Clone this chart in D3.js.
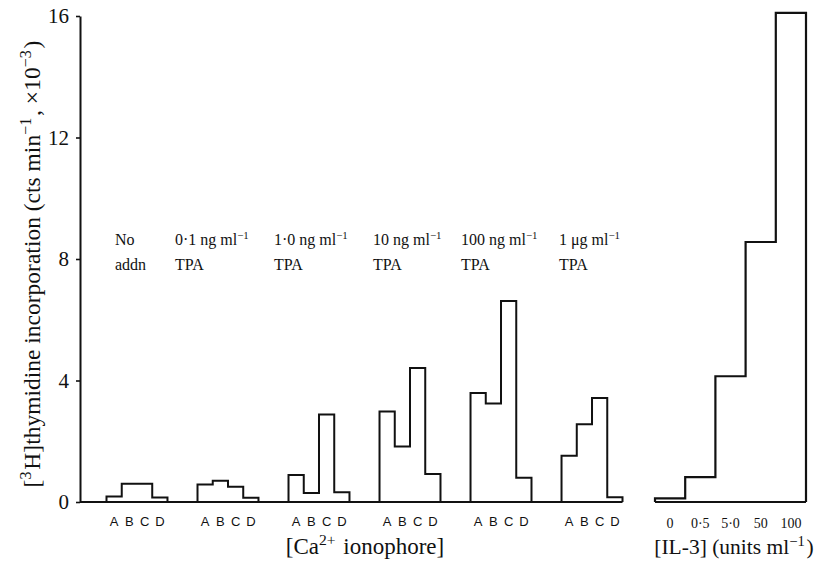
<!DOCTYPE html>
<html>
<head>
<meta charset="utf-8">
<script src="https://cdn.jsdelivr.net/npm/d3@7"></script>
<style>
body { margin: 0; background: #fff; }
text { fill: #111; }
</style>
</head>
<body>
<div id="chart"></div>
<script>
var width = 821;
var height = 561;

// ionophore levels inside each TPA group
var ionophore = ["A", "B", "C", "D"];
// TPA groups (label line 1, its superscript, line 2)
var groupKeys = ["none", "0.1ng", "1ng", "10ng", "100ng", "1ug"];
var groupTop = ["No", "0\u00b71 ng ml", "1\u00b70 ng ml", "10 ng ml", "100 ng ml", "1 \u03bcg ml"];
var groupTopSup = ["", "\u22121", "\u22121", "\u22121", "\u22121", "\u22121"];
var groupBottom = ["addn", "TPA", "TPA", "TPA", "TPA", "TPA"];
// [3H]thymidine incorporation (x10^-3 cts/min), A..D for each group
var noAddn = [0.18, 0.6, 0.6, 0.15];
var tpa01 = [0.58, 0.7, 0.5, 0.14];
var tpa1 = [0.89, 0.3, 2.88, 0.32];
var tpa10 = [2.98, 1.83, 4.41, 0.92];
var tpa100 = [3.59, 3.24, 6.62, 0.8];
var tpa1000 = [1.52, 2.56, 3.42, 0.16];
var groupValues = [noAddn, tpa01, tpa1, tpa10, tpa100, tpa1000];
// IL-3 panel
var il3Doses = ["0", "0\u00b75", "5\u00b70", "50", "100"];
var il3Values = [0.12, 0.82, 4.14, 8.56, 16.1];
var yTicks = [0, 4, 8, 12, 16];

var serif = "'Liberation Serif', 'Times New Roman', serif";
var sans = "'Liberation Sans', Arial, sans-serif";

var svg = d3.select("#chart").append("svg")
  .attr("width", width)
  .attr("height", height);

svg.append("rect").attr("width", width).attr("height", height).attr("fill", "#fff");

var y = d3.scaleLinear().domain([0, 16]).range([502, 16]);

var x0 = d3.scaleBand().domain(groupKeys).range([106.5, 622.5]).paddingInner(0.33).paddingOuter(0);
var x1 = d3.scaleBand().domain(ionophore).range([0, x0.bandwidth()]);
var xr = d3.scaleBand().domain(il3Doses).range([655, 806]);

// writes text made of plain and superscript parts
function richText(sel, parts, size) {
  parts.forEach(function(p) {
    if (!p[0]) return;
    if (p[1]) {
      sel.append("tspan").attr("dy", -size * 0.38).attr("font-size", size * 0.68).text(p[0]);
      sel.append("tspan").attr("dy", size * 0.38).text("\u200a");
    } else {
      sel.append("tspan").text(p[0]);
    }
  });
}

// y axis
var yAxis = svg.append("g")
  .attr("transform", "translate(80,0)")
  .call(d3.axisLeft(y).tickValues(yTicks).tickSize(4).tickSizeOuter(0).tickPadding(7));
yAxis.select(".domain").attr("stroke", "#111").attr("stroke-width", 2);
yAxis.selectAll(".tick line").attr("stroke", "#111").attr("stroke-width", 1.6);
yAxis.selectAll(".tick text").attr("font-family", serif).attr("font-size", 21).attr("fill", "#111");

// baselines
svg.append("line").attr("x1", 80).attr("x2", x0.range()[1])
  .attr("y1", y(0)).attr("y2", y(0)).attr("stroke", "#111").attr("stroke-width", 2);
svg.append("line").attr("x1", xr.range()[0]).attr("x2", xr.range()[1])
  .attr("y1", y(0)).attr("y2", y(0)).attr("stroke", "#111").attr("stroke-width", 2.2);

var step = d3.line().x(d => d[0]).y(d => y(d[1])).curve(d3.curveStepAfter);

// one stepped outline per TPA group
svg.append("g").selectAll("path")
  .data(groupKeys)
  .enter().append("path")
  .attr("fill", "none")
  .attr("stroke", "#111")
  .attr("stroke-width", 2)
  .attr("d", function(g, i) {
    var start = x0(g);
    var pts = [[start, 0]];
    ionophore.forEach(function(k, j) { pts.push([start + x1(k), groupValues[i][j]]); });
    pts.push([start + x0.bandwidth(), 0]);
    return step(pts);
  });

// IL-3 outline
var il3Pts = [[xr(il3Doses[0]), 0]];
il3Doses.forEach(function(k, j) { il3Pts.push([xr(k), il3Values[j]]); });
il3Pts.push([xr.range()[1], 0]);
svg.append("path").attr("fill", "none").attr("stroke", "#111").attr("stroke-width", 2.2)
  .attr("d", step(il3Pts));

// A B C D labels
groupKeys.forEach(function(g) {
  svg.append("g").selectAll("text")
    .data(ionophore)
    .enter().append("text")
    .attr("x", k => x0(g) + x1(k) + x1.bandwidth() / 2)
    .attr("y", 526)
    .attr("text-anchor", "middle")
    .attr("font-family", sans)
    .attr("font-size", 13)
    .text(k => k);
});

// group labels above bars
var labelNudge = [8.5, -22.5, -14.5, -6.5, -9.5, -2.5];
groupKeys.forEach(function(g, i) {
  var t = svg.append("text")
    .attr("x", x0(g) + labelNudge[i]).attr("y", 245)
    .attr("font-family", serif).attr("font-size", 16);
  richText(t, [[groupTop[i], false], [groupTopSup[i], true]], 16);
  svg.append("text")
    .attr("x", x0(g) + labelNudge[i]).attr("y", 270)
    .attr("font-family", serif).attr("font-size", 16)
    .text(groupBottom[i]);
});

// IL-3 dose labels
svg.append("g").selectAll("text")
  .data(il3Doses)
  .enter().append("text")
  .attr("x", d => xr(d) + xr.bandwidth() / 2)
  .attr("y", 528)
  .attr("text-anchor", "middle")
  .attr("font-family", serif)
  .attr("font-size", 14)
  .text(d => d);

// axis titles
var yt = svg.append("text")
  .attr("transform", "translate(40,264) rotate(-90)")
  .attr("text-anchor", "middle")
  .attr("font-family", serif).attr("font-size", 23.5);
richText(yt, [["[", false], ["3", true], ["H]thymidine incorporation (cts min", false], ["\u22121", true], [", \u00d710", false], ["\u22123", true], [")", false]], 23.5);

var xt = svg.append("text")
  .attr("x", 365).attr("y", 554)
  .attr("text-anchor", "middle")
  .attr("font-family", serif).attr("font-size", 23);
richText(xt, [["[Ca", false], ["2+", true], [" ionophore]", false]], 23);

var rt = svg.append("text")
  .attr("x", 734).attr("y", 554)
  .attr("text-anchor", "middle")
  .attr("font-family", serif).attr("font-size", 21.5);
richText(rt, [["[IL-3] (units ml", false], ["\u22121", true], [")", false]], 21.5);
</script>
</body>
</html>
